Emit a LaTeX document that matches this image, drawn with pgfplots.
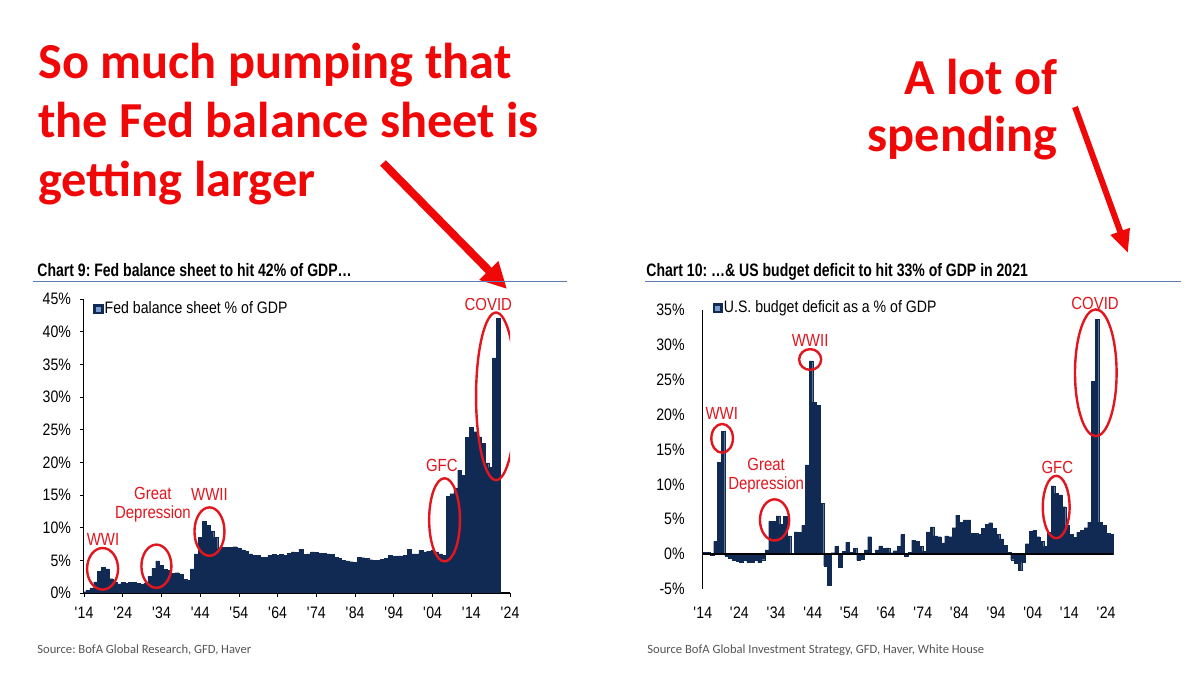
\documentclass[border=0pt]{standalone}
\usepackage{fontspec}
\setmainfont{Liberation Sans}
\newfontfamily\narrowfont[FakeStretch=0.85]{Liberation Sans}
\newfontfamily\titlefont[FakeStretch=0.78]{Liberation Sans Bold}
\newfontfamily\bigfont{Carlito Bold}
\newfontfamily\srcfont{Carlito}
\usepackage{pgfplots}
\pgfplotsset{compat=1.18}
\usetikzlibrary{arrows.meta}
\definecolor{navy}{RGB}{16,42,84}
\definecolor{lightnavy}{RGB}{120,155,205}
\definecolor{annred}{RGB}{226,22,30}
\definecolor{bigred}{RGB}{240,8,8}
\definecolor{ruleblue}{RGB}{92,124,178}
\definecolor{srcgrey}{RGB}{85,85,85}
\pgfplotsset{
  legimg/.style={legend image code/.code={%
    \fill[navy] (0pt,-2.3pt) rectangle (4.6pt,2.3pt);
    \fill[lightnavy] (1.3pt,-1pt) rectangle (3.3pt,1pt);}},
}
\begin{document}
\frenchspacing
\begin{tikzpicture}
\useasboundingbox (0pt,0pt) rectangle (600pt,339.5pt);
\fill[white] (0pt,0pt) rectangle (600pt,339.5pt);

% big annotations
\tikzset{big/.style={inner sep=0pt,text=bigred,font=\bigfont\fontsize{25.2}{30}\selectfont}}
\node[big,anchor=base west] at (19pt,300pt) {So much pumping that};
\node[big,anchor=base west] at (19pt,270.5pt) {the Fed balance sheet is};
\node[big,anchor=base west] at (19pt,241pt) {getting larger};
\node[big,anchor=base east] at (529pt,292pt) {A lot of};
\node[big,anchor=base east] at (529pt,263.5pt) {spending};
\draw[bigred, line width=4pt, -{Triangle[width=12.5pt,length=13pt]}] (191.5pt,258pt) -- (253.5pt,195pt);
\draw[bigred, line width=3pt, -{Triangle[width=9.5pt,length=11.5pt]}] (537.5pt,286pt) -- (564pt,213pt);

% titles
\tikzset{ttl/.style={anchor=base west,inner sep=0pt,font=\titlefont\fontsize{9}{10}\selectfont\frenchspacing}}
\node[ttl] at (18.5pt,201.2pt) {Chart 9: Fed balance sheet to hit 42\% of GDP…};
\draw[ruleblue, line width=0.75pt] (16.5pt,198.7pt) -- (283.5pt,198.7pt);
\node[ttl] at (323pt,201.2pt) {Chart 10: …\& US budget deficit to hit 33\% of GDP in 2021};
\draw[ruleblue, line width=0.75pt] (322.5pt,198.7pt) -- (590.5pt,198.7pt);

% sources
\tikzset{src/.style={anchor=base west,inner sep=0pt,text=srcgrey,font=\srcfont\fontsize{6.3}{7}\selectfont\frenchspacing}}
\node[src] at (18.5pt,12.5pt) {Source: BofA Global Research, GFD, Haver};
\node[src] at (323.5pt,12.5pt) {Source BofA Global Investment Strategy, GFD, Haver, White House};

% ---------------- Chart 9 ----------------
\begin{axis}[
  at={(42pt,43pt)}, anchor=south west,
  width=213pt, height=147pt, scale only axis,
  xmin=1914, xmax=2024, ymin=0, ymax=45,
  axis x line*=bottom, axis y line*=left,
  x axis line style={-, black, line width=0.9pt},
  y axis line style={-, black, line width=0.5pt},
  xtick={1914,1924,...,2024},
  xticklabels={\textquotesingle14,\textquotesingle24,\textquotesingle34,\textquotesingle44,\textquotesingle54,\textquotesingle64,\textquotesingle74,\textquotesingle84,\textquotesingle94,\textquotesingle04,\textquotesingle14,\textquotesingle24},
  ytick={0,5,...,45},
  yticklabels={0\%,5\%,10\%,15\%,20\%,25\%,30\%,35\%,40\%,45\%},
  tick align=outside, major tick length=2pt,
  tick style={black, line width=0.4pt},
  ticklabel style={font=\narrowfont\fontsize{8.3}{9}\selectfont},
  yticklabel style={xshift=-1pt},
  xticklabel style={yshift=-1.5pt},
  ybar, bar width=1,
  legend style={at={(0.021,1.0)}, anchor=north west, draw=none, fill=none,
    inner sep=0pt, font=\narrowfont\fontsize{8.3}{9}\selectfont, nodes={inner sep=1pt}},
  legend cell align=left,
]
\addplot[fill=navy, draw=navy, line width=0.1pt, legimg] coordinates {
(1914,0.2) (1915,0.4) (1916,0.8) (1917,1.7) (1918,3.3) (1919,3.9) (1920,3.7) (1921,2.2) (1922,1.6) (1923,1.4)
(1924,1.6) (1925,1.5) (1926,1.6) (1927,1.6) (1928,1.5) (1929,1.4) (1930,1.5) (1931,2.6) (1932,3.8) (1933,4.9)
(1934,4.2) (1935,3.6) (1936,3.5) (1937,3.0) (1938,3.1) (1939,2.9) (1940,2.1) (1941,1.9) (1942,3.7) (1943,6.0)
(1944,8.5) (1945,11.0) (1946,10.4) (1947,9.5) (1948,8.5) (1949,6.8) (1950,7.0) (1951,7.0) (1952,7.0) (1953,7.1)
(1954,6.9) (1955,6.6) (1956,6.4) (1957,6.0) (1958,5.8) (1959,5.8) (1960,5.5) (1961,5.5) (1962,5.8) (1963,5.9)
(1964,5.8) (1965,5.9) (1966,5.8) (1967,6.1) (1968,6.3) (1969,6.2) (1970,6.7) (1971,5.9) (1972,6.0) (1973,6.3)
(1974,6.2) (1975,6.1) (1976,6.1) (1977,6.0) (1978,5.9) (1979,5.5) (1980,5.3) (1981,5.0) (1982,4.9) (1983,4.8)
(1984,4.7) (1985,5.5) (1986,5.4) (1987,5.3) (1988,5.1) (1989,5.0) (1990,5.0) (1991,5.2) (1992,5.3) (1993,5.8)
(1994,5.6) (1995,5.7) (1996,5.7) (1997,5.8) (1998,6.7) (1999,6.0) (2000,6.0) (2001,6.5) (2002,6.3) (2003,6.4)
(2004,6.5) (2005,6.3) (2006,6.0) (2007,5.8) (2008,14.8) (2009,15.2) (2010,16.0) (2011,18.8) (2012,18.0) (2013,23.8)
(2014,25.4) (2015,24.7) (2016,23.9) (2017,22.9) (2018,19.9) (2019,19.2) (2020,36.0) (2021,42.0)
};
\addlegendentry{Fed balance sheet \% of GDP}
\tikzset{lab/.style={text=annred,inner sep=0pt,font=\narrowfont\fontsize{8.8}{9}\selectfont},
         ell/.style={draw=annred,line width=1.2pt}}
\draw[ell] (axis cs:1918.8,3.7) ellipse [x radius=7.75pt, y radius=10.4pt];
\node[lab] at (axis cs:1918.9,8.2) {WWI};
\draw[ell] (axis cs:1932.7,4.1) ellipse [x radius=7.5pt, y radius=10.8pt];
\node[lab] at (axis cs:1931.8,15.2) {Great};
\node[lab] at (axis cs:1931.8,12.1) {Depression};
\draw[ell] (axis cs:1946.4,9.4) ellipse [x radius=7.5pt, y radius=12.1pt];
\node[lab] at (axis cs:1946.4,15.1) {WWII};
\draw[ell] (axis cs:2007.1,11.2) ellipse [x radius=7.7pt, y radius=20.8pt];
\node[lab] at (axis cs:2006.4,19.6) {GFC};
\draw[ell] (axis cs:2020.4,30.1) ellipse [x radius=10pt, y radius=41.9pt];
\node[lab] at (axis cs:2018.4,44.2) {COVID};
\end{axis}

% ---------------- Chart 10 ----------------
\begin{axis}[
  at={(351.35pt,45pt)}, anchor=south west,
  width=205.35pt, height=139.5pt, scale only axis,
  xmin=1913.5, xmax=2025.5, ymin=-5, ymax=35,
  axis x line*=bottom, axis y line*=left,
  x axis line style={draw=none},
  y axis line style={-, black, line width=0.6pt},
  xtick={1913.5,1923.5,...,2023.5},
  xticklabels={\textquotesingle14,\textquotesingle24,\textquotesingle34,\textquotesingle44,\textquotesingle54,\textquotesingle64,\textquotesingle74,\textquotesingle84,\textquotesingle94,\textquotesingle04,\textquotesingle14,\textquotesingle24},
  ytick={-5,0,5,...,35},
  yticklabels={-5\%,0\%,5\%,10\%,15\%,20\%,25\%,30\%,35\%},
  tick style={draw=none},
  ticklabel style={font=\narrowfont\fontsize{8.3}{9}\selectfont},
  yticklabel style={xshift=-5.5pt},
  xticklabel style={yshift=-1pt},
  ybar, bar width=1,
  clip=false,
  legend style={at={(0.023,1.043)}, anchor=north west, draw=none, fill=none,
    inner sep=0pt, font=\narrowfont\fontsize{8.3}{9}\selectfont, nodes={inner sep=1pt}},
  legend cell align=left,
]
\addplot[fill=navy, draw=navy, line width=0.1pt, legimg] coordinates {
(1914,0.3) (1915,0.3) (1916,-0.1) (1917,1.8) (1918,13.2) (1919,17.6) (1920,-0.3) (1921,-0.6) (1922,-0.9) (1923,-1.0)
(1924,-1.1) (1925,-0.9) (1926,-1.1) (1927,-1.2) (1928,-0.9) (1929,-1.2) (1930,-0.8) (1931,0.6) (1932,4.7) (1933,4.7)
(1934,5.5) (1935,4.3) (1936,5.4) (1937,2.6) (1938,0.1) (1939,3.2) (1940,3.1) (1941,4.1) (1942,12.8) (1943,27.7)
(1944,21.8) (1945,21.3) (1946,7.3) (1947,-1.7) (1948,-4.4) (1949,0.2) (1950,1.1) (1951,-1.9) (1952,0.4) (1953,1.7)
(1954,0.3) (1955,0.8) (1956,-0.9) (1957,-0.7) (1958,0.6) (1959,2.5) (1960,0.1) (1961,0.6) (1962,1.2) (1963,0.8)
(1964,0.9) (1965,0.2) (1966,0.5) (1967,1.1) (1968,2.8) (1969,-0.3) (1970,0.3) (1971,2.0) (1972,1.8) (1973,1.1)
(1974,0.4) (1975,3.2) (1976,3.9) (1977,2.6) (1978,2.5) (1979,1.6) (1980,2.6) (1981,2.5) (1982,3.8) (1983,5.6)
(1984,4.6) (1985,4.9) (1986,4.9) (1987,3.0) (1988,3.0) (1989,2.8) (1990,3.7) (1991,4.3) (1992,4.5) (1993,3.7)
(1994,2.8) (1995,2.2) (1996,1.3) (1997,0.3) (1998,-0.8) (1999,-1.3) (2000,-2.3) (2001,-1.2) (2002,1.5) (2003,3.3)
(2004,3.4) (2005,2.5) (2006,1.8) (2007,1.1) (2008,3.1) (2009,9.8) (2010,8.7) (2011,8.5) (2012,6.8) (2013,4.1)
(2014,2.8) (2015,2.4) (2016,3.1) (2017,3.4) (2018,3.8) (2019,4.6) (2020,24.8) (2021,33.7) (2022,4.6) (2023,4.1)
(2024,3.0) (2025,2.8)
};
\addlegendentry{U.S. budget deficit as a \% of GDP}
\addplot[sharp plot, black, line width=1.3pt, forget plot] coordinates {(1913.5,0) (2025.5,0)};
\tikzset{lab/.style={text=annred,inner sep=0pt,font=\narrowfont\fontsize{8.8}{9}\selectfont},
         ell/.style={draw=annred,line width=1.2pt}}
\draw[ell] (axis cs:1918.8,16.6) ellipse [x radius=5.4pt, y radius=7.2pt];
\node[lab] at (axis cs:1918.7,20.2) {WWI};
\draw[ell] (axis cs:1933.1,4.9) ellipse [x radius=7.3pt, y radius=10.3pt];
\node[lab] at (axis cs:1930.8,12.9) {Great};
\node[lab] at (axis cs:1930.8,9.9) {Depression};
\draw[ell] (axis cs:1942.8,27.9) ellipse [x radius=5.5pt, y radius=5.2pt];
\node[lab] at (axis cs:1942.8,30.7) {WWII};
\draw[ell] (axis cs:2009.9,6.75) ellipse [x radius=6.7pt, y radius=15.6pt];
\node[lab] at (axis cs:2010.2,12.4) {GFC};
\draw[ell] (axis cs:2020.7,26.0) ellipse [x radius=10.4pt, y radius=31.7pt];
\node[lab] at (axis cs:2020.5,35.9) {COVID};
\end{axis}
\end{tikzpicture}
\end{document}
